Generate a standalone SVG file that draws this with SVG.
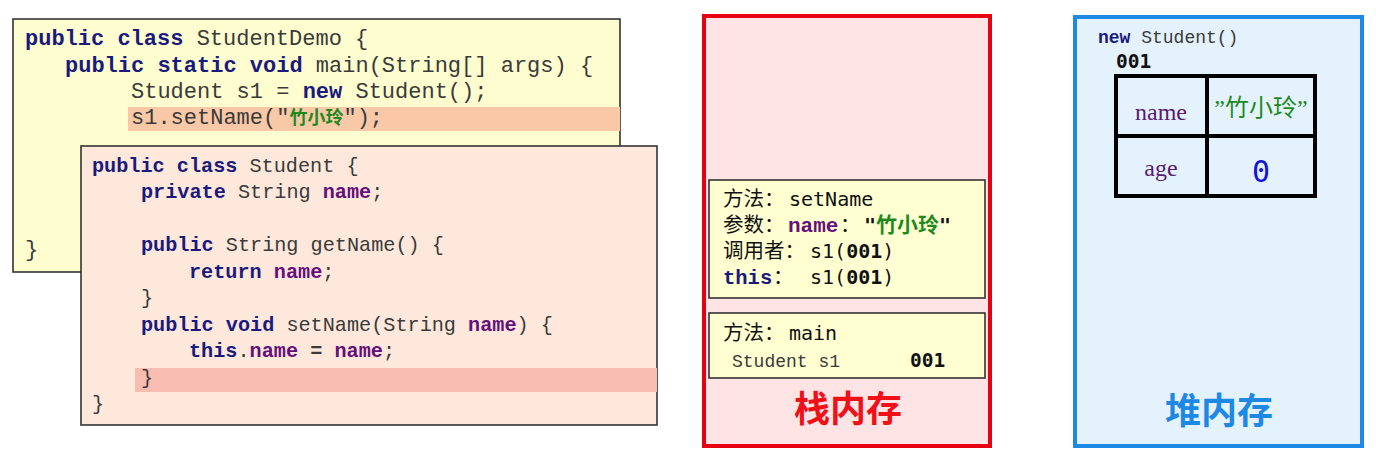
<svg xmlns="http://www.w3.org/2000/svg" width="1376" height="463" viewBox="0 0 1376 463">
<style>
  .code { font-family: "Liberation Mono", "Noto Sans CJK SC", monospace; fill: #3a3a3a; white-space: pre; }
  .c1 { font-size: 22px; }
  .c2 { font-size: 20.2px; }
  .kw { font-weight: bold; fill: #1a1a7e; }
  .fd { font-weight: bold; fill: #660e7a; }
  .str { font-family: "Noto Sans CJK SC", sans-serif; font-weight: bold; fill: #1e8a1e; }
  .cn { font-family: "Noto Sans CJK SC", sans-serif; font-size: 20.5px; fill: #111; }
  .mono { font-family: "DejaVu Sans Mono", monospace; font-size: 20px; fill: #111; }
  .monob { font-family: "DejaVu Sans Mono", monospace; font-weight: bold; fill: #111; }
  .box { stroke: #333; stroke-width: 1.6; }
  .title { font-family: "Noto Sans CJK SC", sans-serif; font-weight: bold; font-size: 36px; text-anchor: middle; }
</style>
<rect width="1376" height="463" fill="#ffffff"/>

<g id="code-studentdemo">
  <rect class="box" x="13" y="19" width="607" height="253" fill="#fefdd0"/>
  <rect x="128" y="107" width="492" height="24" fill="#f9c8a6"/>
  <text class="code c1" x="25" y="45"><tspan class="kw">public class</tspan> StudentDemo {</text>
  <text class="code c1" x="65" y="72"><tspan class="kw">public static void</tspan> main(String[] args) {</text>
  <text class="code c1" x="131" y="98">Student s1 = <tspan class="kw">new</tspan> Student();</text>
  <text class="code c1" x="131" y="124">s1.setName("<tspan class="str" font-size="18">竹小玲</tspan>");</text>
  <text class="code c1" x="25" y="256">}</text>
</g>

<g id="code-student">
  <rect class="box" x="81" y="146" width="576" height="279" fill="#fde8db"/>
  <rect x="135" y="368" width="522" height="24" fill="#f8bdb0"/>
  <text class="code c2" x="92" y="172"><tspan class="kw">public class</tspan> Student {</text>
  <text class="code c2" x="141" y="198"><tspan class="kw">private</tspan> String <tspan class="fd">name</tspan>;</text>
  <text class="code c2" x="141" y="251"><tspan class="kw">public</tspan> String getName() {</text>
  <text class="code c2" x="189" y="278"><tspan class="kw">return</tspan> <tspan class="fd">name</tspan>;</text>
  <text class="code c2" x="141" y="304">}</text>
  <text class="code c2" x="141" y="331"><tspan class="kw">public void</tspan> setName(String <tspan class="fd">name</tspan>) {</text>
  <text class="code c2" x="189" y="357"><tspan class="kw">this</tspan>.<tspan class="fd">name</tspan> <tspan font-weight="bold">=</tspan> <tspan class="fd">name</tspan>;</text>
  <text class="code c2" x="141" y="384">}</text>
  <text class="code c2" x="92" y="410">}</text>
</g>

<g id="stack">
  <rect x="704" y="16" width="286" height="430" fill="#ffe4e6" stroke="#e60012" stroke-width="4"/>
  <text class="title" x="848" y="422" fill="#f01018">栈内存</text>
</g>

<g id="frame-setname">
  <rect class="box" x="709" y="180" width="276" height="118" fill="#ffffd2"/>
  <text class="cn" x="723" y="206">方法：</text>
  <text class="mono" x="789" y="206">setName</text>
  <text class="cn" x="723" y="232">参数：</text>
  <text class="code fd" font-size="21" x="788" y="232">name</text>
  <text class="cn" x="840" y="232">：</text>
  <text x="864" y="232"><tspan class="monob" font-size="20" fill="#1e8a1e">"</tspan><tspan class="str" font-size="21">竹小玲</tspan><tspan class="monob" font-size="20" fill="#1e8a1e">"</tspan></text>
  <text class="cn" x="723" y="258">调用者：</text>
  <text x="810" y="258"><tspan class="mono">s1(</tspan><tspan class="monob" font-size="20">001</tspan><tspan class="mono">)</tspan></text>
  <text class="code kw" font-size="20.5" x="723" y="284">this</text>
  <text class="cn" x="773" y="284">：</text>
  <text x="810" y="284"><tspan class="mono">s1(</tspan><tspan class="monob" font-size="20">001</tspan><tspan class="mono">)</tspan></text>
</g>

<g id="frame-main">
  <rect class="box" x="709" y="313" width="276" height="65" fill="#ffffd2"/>
  <text class="cn" x="723" y="340">方法：</text>
  <text class="mono" x="789" y="340">main</text>
  <text class="code" font-size="18" x="732" y="367">Student s1</text>
  <text class="monob" font-size="19.5" x="910" y="367">001</text>
</g>

<g id="heap">
  <rect x="1075" y="17" width="287" height="429" fill="#e4f2fd" stroke="#1e88e5" stroke-width="4"/>
  <text class="title" x="1219" y="424" fill="#1e88e5">堆内存</text>
</g>

<g id="object-001">
  <text class="code" font-size="18" x="1098" y="43"><tspan class="kw">new</tspan> Student()</text>
  <text class="monob" font-size="19.5" x="1116" y="68">001</text>
  <rect x="1116" y="76" width="199" height="120" fill="none" stroke="#000" stroke-width="4"/>
  <line x1="1207" y1="76" x2="1207" y2="196" stroke="#000" stroke-width="4"/>
  <line x1="1116" y1="136" x2="1315" y2="136" stroke="#000" stroke-width="4"/>
  <text font-family="Liberation Serif, serif" font-size="24" fill="#5a1a6e" x="1161" y="120" text-anchor="middle">name</text>
  <text font-family="Liberation Serif, serif" font-size="24" fill="#5a1a6e" x="1161" y="176" text-anchor="middle">age</text>
  <text font-family="Liberation Serif, Noto Sans CJK SC, serif" font-size="24" fill="#1e8a1e" x="1261" y="116" text-anchor="middle">”竹小玲”</text>
  <text font-family="DejaVu Sans Mono, monospace" font-size="30" fill="#1414d8" x="1261" y="182" text-anchor="middle">0</text>
</g>

<g id="connectors"></g>
</svg>
